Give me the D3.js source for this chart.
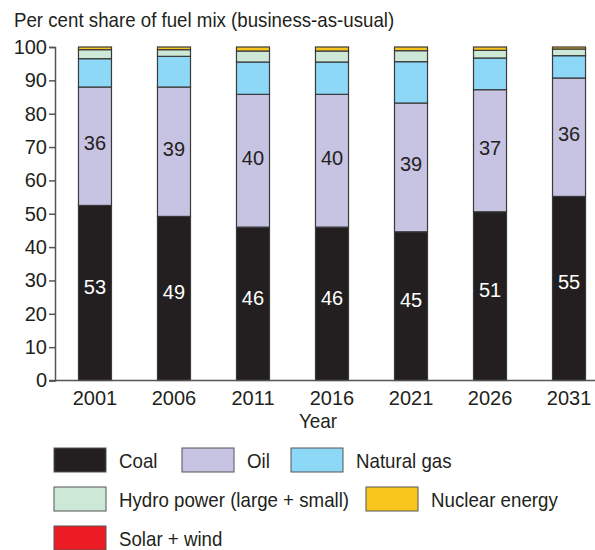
<!DOCTYPE html>
<html>
<head>
<meta charset="utf-8">
<script src="https://cdn.jsdelivr.net/npm/d3@7"></script>
<style>
  body { margin: 0; background: #fff; }
  svg text { font-family: "Liberation Sans", Arial, sans-serif; fill: #231f20; }
</style>
</head>
<body>
<svg id="chart" width="595" height="550"></svg>
<script>
// years on the x axis
var years = ["2001", "2006", "2011", "2016", "2021", "2026", "2031"];

// per cent share (bottom to top)
var coal    = [52.5, 49.2, 46.0, 46.0, 44.6, 50.6, 55.2];
var oil     = [35.5, 38.8, 39.8, 39.8, 38.6, 36.6, 35.5];
var gas     = [8.5, 9.2, 9.7, 9.7, 12.4, 9.5, 6.7];
var hydro   = [2.7, 2.0, 3.3, 3.3, 3.3, 2.3, 2.0];
var nuclear = [0.8, 0.8, 1.2, 1.2, 1.1, 1.0, 0.6];
var solar   = [0, 0, 0, 0, 0, 0, 0];

var seriesNames = ["Coal", "Oil", "Natural gas", "Hydro power (large + small)", "Nuclear energy", "Solar + wind"];
var seriesColors = ["#231f20", "#c7c3e2", "#8dd7f7", "#cde8d7", "#f8c61c", "#ed1c24"];
var yTicks = [0, 10, 20, 30, 40, 50, 60, 70, 80, 90, 100];

var svg = d3.select("#chart");

var x = d3.scaleBand().domain(years).range([55, 609]).paddingInner(0.582).paddingOuter(0.297);
var y = d3.scaleLinear().domain([0, 100]).range([380.5, 47]);

// the print font is a condensed one, so squeeze the word labels a bit
function condense(sel, f) {
    sel.each(function() {
        var w = this.getComputedTextLength();
        d3.select(this).attr("textLength", w * f).attr("lengthAdjust", "spacingAndGlyphs");
    });
}

// rows for the stack
var rows = years.map(function(yr, i) {
    return { year: yr, "Coal": coal[i], "Oil": oil[i], "Natural gas": gas[i],
             "Hydro power (large + small)": hydro[i], "Nuclear energy": nuclear[i], "Solar + wind": solar[i] };
});
var stacked = d3.stack().keys(seriesNames)(rows);

svg.append("text")
    .attr("x", 14).attr("y", 27)
    .attr("font-size", 21)
    .text("Per cent share of fuel mix (business-as-usual)")
    .call(condense, 0.89);

var layers = svg.append("g").selectAll("g")
    .data(stacked).enter().append("g")
    .attr("fill", function(d, i) { return seriesColors[i]; });

layers.selectAll("rect")
    .data(function(d) { return d.filter(function(p) { return p[1] - p[0] > 0; }); })
    .enter().append("rect")
    .attr("x", function(d) { return x(d.data.year); })
    .attr("y", function(d) { return y(d[1]); })
    .attr("width", x.bandwidth())
    .attr("height", function(d) { return y(d[0]) - y(d[1]); })
    .attr("stroke", "#3a3a3a")
    .attr("stroke-width", 1.2);

// value labels for coal and oil
var labelled = [0, 1];
labelled.forEach(function(k) {
    svg.append("g").selectAll("text")
        .data(stacked[k]).enter().append("text")
        .attr("x", function(d) { return x(d.data.year) + x.bandwidth() / 2; })
        .attr("y", function(d) { return (y(d[0]) + y(d[1])) / 2 + (k === 0 ? -6 : -3); })
        .attr("text-anchor", "middle")
        .attr("dominant-baseline", "central")
        .attr("font-size", 20)
        .style("fill", k === 0 ? "#fff" : "#231f20")
        .text(function(d) { return Math.round(d[1] - d[0]); });
});

// y axis
var yAxis = svg.append("g")
    .attr("transform", "translate(55,0)")
    .call(d3.axisLeft(y).tickValues(yTicks).tickSize(6).tickPadding(2));
yAxis.select(".domain").attr("stroke", "#555").attr("stroke-width", 1.5);
yAxis.selectAll(".tick line").attr("stroke", "#555").attr("stroke-width", 1.5);
yAxis.selectAll("text").attr("font-size", 20).attr("font-family", "Liberation Sans, Arial, sans-serif").style("fill", "#231f20");

// x axis
var xAxis = svg.append("g")
    .attr("transform", "translate(0,380.5)")
    .call(d3.axisBottom(x).tickSize(0).tickPadding(10));
xAxis.select(".domain").attr("stroke", "#555").attr("stroke-width", 1.5)
    .attr("d", "M49,0H595");
xAxis.selectAll("text").attr("font-size", 20).attr("font-family", "Liberation Sans, Arial, sans-serif").style("fill", "#231f20");

svg.append("text")
    .attr("x", 318).attr("y", 428)
    .attr("text-anchor", "middle")
    .attr("font-size", 21)
    .text("Year")
    .call(condense, 0.9);

// legend
var legendPos = [[54, 448], [182, 448], [291, 448], [54, 487], [366, 487], [54, 526]];
var legend = svg.append("g").selectAll("g")
    .data(seriesNames).enter().append("g")
    .attr("transform", function(d, i) { return "translate(" + legendPos[i][0] + "," + legendPos[i][1] + ")"; });
legend.append("rect")
    .attr("width", 52).attr("height", 24)
    .attr("fill", function(d, i) { return seriesColors[i]; })
    .attr("stroke", "#555").attr("stroke-width", 1);
legend.append("text")
    .attr("x", 65).attr("y", 12)
    .attr("dominant-baseline", "central")
    .attr("font-size", 21)
    .text(function(d) { return d; })
    .call(condense, 0.89);
</script>
</body>
</html>
